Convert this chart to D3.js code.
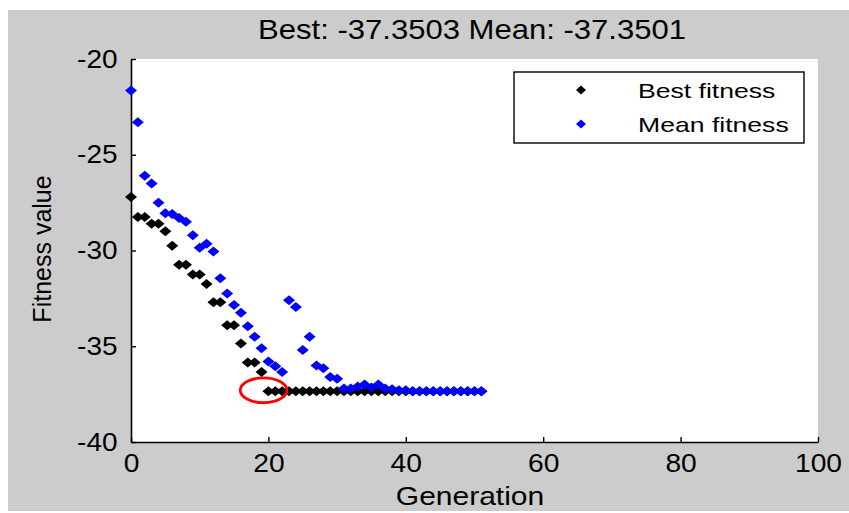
<!DOCTYPE html>
<html>
<head>
<meta charset="utf-8">
<script src="https://cdn.jsdelivr.net/npm/d3@7/dist/d3.min.js"></script>
<style>
  html, body { margin: 0; padding: 0; background: #fff; }
  svg { display: block; font-family: "Liberation Sans", Arial, sans-serif; }
</style>
</head>
<body>
<svg id="chart" width="849" height="513"></svg>
<script>
// values, one entry per generation (0..51)
const bestFitness = [
  -27.2, -28.25, -28.25, -28.6, -28.6, -29.0, -29.75, -30.75, -30.75, -31.25,
  -31.25, -31.75, -32.7, -32.7, -33.9, -33.9, -34.85, -35.85, -35.85, -36.35,
  -37.35, -37.35, -37.35, -37.35, -37.35, -37.35, -37.35, -37.35, -37.35, -37.35,
  -37.35, -37.35, -37.35, -37.35, -37.35, -37.35, -37.35, -37.35, -37.35, -37.35,
  -37.35, -37.35, -37.35, -37.35, -37.35, -37.35, -37.35, -37.35, -37.35, -37.35,
  -37.35, -37.35
];
const meanFitness = [
  -21.65, -23.3, -26.1, -26.5, -27.5, -28.05, -28.1, -28.3, -28.5, -29.2,
  -29.85, -29.65, -30.05, -31.45, -32.25, -32.85, -33.25, -33.95, -34.5, -35.1,
  -35.8, -36.05, -36.35, -32.6, -32.95, -35.2, -34.5, -36.0, -36.15, -36.6,
  -36.7, -37.2, -37.2, -37.1, -37.0, -37.15, -37.0, -37.2, -37.25, -37.3,
  -37.3, -37.35, -37.35, -37.35, -37.35, -37.35, -37.35, -37.35, -37.35, -37.35,
  -37.35, -37.35
];
const xTicks = [0, 20, 40, 60, 80, 100];
const yTicks = [-40, -35, -30, -25, -20];
const legendLabels = ["Best fitness", "Mean fitness"];
const seriesColors = ["#000000", "#0000ff"];
const titleText = "Best: -37.3503 Mean: -37.3501";
// the circled point (generation, fitness)
const marked = {gen: 19.3, value: -37.3};

const svg = d3.select("#chart");

const x = d3.scaleLinear().domain([0, 100]).range([131, 818]);
const y = d3.scaleLinear().domain([-40, -20]).range([442, 59]);

// figure background
svg.append("rect")
    .attr("x", 8).attr("y", 10)
    .attr("width", 841).attr("height", 501)
    .attr("fill", "#cccccc");

svg.append("rect")
    .attr("x", x(0)).attr("y", y(-20))
    .attr("width", x(100) - x(0)).attr("height", y(-40) - y(-20))
    .attr("fill", "#ffffff");

// stretch text horizontally (source image was widened)
function stretchText(sel, k, px, py) {
    sel.attr("transform", `translate(${px},${py}) scale(${k},1)`)
        .attr("x", 0).attr("y", 0);
}

// plain hyphen minus like the original, not U+2212
const fmt = d => String(d);

const xAxis = svg.append("g")
    .attr("transform", `translate(0,${y(-40)})`)
    .call(d3.axisBottom(x).tickValues(xTicks).tickFormat(fmt)
        .tickSizeInner(-5).tickSizeOuter(0).tickPadding(12));

const yAxis = svg.append("g")
    .attr("transform", `translate(${x(0)},0)`)
    .call(d3.axisLeft(y).tickValues(yTicks).tickFormat(fmt)
        .tickSizeInner(-5).tickSizeOuter(0).tickPadding(12));

[xAxis, yAxis].forEach(g => {
    g.attr("font-family", null);
    g.select(".domain").attr("stroke", "#000").attr("stroke-width", 1.6);
    g.selectAll(".tick line").attr("stroke", "#000").attr("stroke-width", 1.4);
    g.selectAll(".tick text")
        .attr("fill", "#000")
        .style("font-size", "25px");
});
xAxis.selectAll(".tick text").attr("transform", "scale(1.13,1)");
yAxis.selectAll(".tick text").attr("transform", "scale(1.12,1)").attr("x", -12);

// markers: small diamonds
const diamond = "M-6,0L0,-5L6,0L0,5Z";

svg.append("g").selectAll("path")
    .data(bestFitness)
    .join("path")
    .attr("d", diamond)
    .attr("transform", (d, i) => `translate(${x(i)},${y(d)})`)
    .attr("fill", seriesColors[0]);

svg.append("g").selectAll("path")
    .data(meanFitness)
    .join("path")
    .attr("d", diamond)
    .attr("transform", (d, i) => `translate(${x(i)},${y(d)})`)
    .attr("fill", seriesColors[1]);

// red circle round the best point
svg.append("ellipse")
    .attr("cx", x(marked.gen)).attr("cy", y(marked.value))
    .attr("rx", x(3.4) - x(0)).attr("ry", y(-40) - y(-39.35))
    .attr("fill", "none")
    .attr("stroke", "#ff0000")
    .attr("stroke-width", 2.8);

// title and axis labels
svg.append("text")
    .text(titleText)
    .attr("text-anchor", "middle")
    .style("font-size", "27px")
    .call(stretchText, 1.15, 472, 39);

svg.append("text")
    .text("Generation")
    .attr("text-anchor", "middle")
    .style("font-size", "25px")
    .call(stretchText, 1.2, 470, 505);

svg.append("text")
    .text("Fitness value")
    .attr("text-anchor", "middle")
    .style("font-size", "25px")
    .attr("transform", "translate(51,249) rotate(-90)");

// legend
const legend = svg.append("g");
legend.append("rect")
    .attr("x", 514).attr("y", 72)
    .attr("width", 290).attr("height", 71)
    .attr("fill", "#fff")
    .attr("stroke", "#000")
    .attr("stroke-width", 1.4);

legendLabels.forEach((label, i) => {
    const cy = 90 + i * 34;
    legend.append("path")
        .attr("d", "M-5,0L0,-4.5L5,0L0,4.5Z")
        .attr("transform", `translate(581,${cy})`)
        .attr("fill", seriesColors[i]);
    legend.append("text")
        .text(label)
        .style("font-size", "20px")
        .call(stretchText, 1.33, 638, cy + 8);
});
</script>
</body>
</html>
